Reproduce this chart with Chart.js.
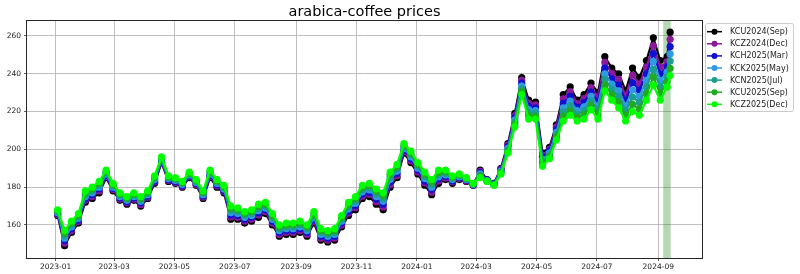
<!DOCTYPE html>
<html>
<head>
<meta charset="utf-8">
<script src="https://cdn.jsdelivr.net/npm/chart.js@4/dist/chart.umd.min.js"></script>
<style>
  html, body { margin: 0; padding: 0; background: #fff; }
  #wrap { width: 800px; height: 274px; position: relative; }
</style>
</head>
<body>
<div id="wrap"><canvas id="priceChart" width="800" height="274"></canvas></div>
<script>
// weekly readings taken from the chart (last one is the final day shown)
const dates = [
  '2023-01-03','2023-01-10','2023-01-17','2023-01-24','2023-01-31','2023-02-07','2023-02-14','2023-02-21','2023-02-28','2023-03-07',
  '2023-03-14','2023-03-21','2023-03-28','2023-04-04','2023-04-11','2023-04-18','2023-04-25','2023-05-02','2023-05-09','2023-05-16',
  '2023-05-23','2023-05-30','2023-06-06','2023-06-13','2023-06-20','2023-06-27','2023-07-04','2023-07-11','2023-07-18','2023-07-25',
  '2023-08-01','2023-08-08','2023-08-15','2023-08-22','2023-08-29','2023-09-05','2023-09-12','2023-09-19','2023-09-26','2023-10-03',
  '2023-10-10','2023-10-17','2023-10-24','2023-10-31','2023-11-07','2023-11-14','2023-11-21','2023-11-28','2023-12-05','2023-12-12',
  '2023-12-19','2023-12-26','2024-01-02','2024-01-09','2024-01-16','2024-01-23','2024-01-30','2024-02-06','2024-02-13','2024-02-20',
  '2024-02-27','2024-03-05','2024-03-12','2024-03-19','2024-03-26','2024-04-02','2024-04-09','2024-04-16','2024-04-23','2024-04-30',
  '2024-05-07','2024-05-14','2024-05-21','2024-05-28','2024-06-04','2024-06-11','2024-06-18','2024-06-25','2024-07-02','2024-07-09',
  '2024-07-16','2024-07-23','2024-07-30','2024-08-06','2024-08-13','2024-08-20','2024-08-27','2024-09-03','2024-09-10','2024-09-13'
];

const kcu2024 = [
  165,149,156,161,172,174,177,185,178,173, 171,173,170,174,182,193,183,182,180,185,
  181,174,185,180,177,163,163,161,162,164, 166,160,154,155,155,156,154,161,152,151,
  152,159,165,168,174,175,171,168,180,185, 198,193,187,181,176,182,184,182,184,183,
  181,189,184,182,190,203,219,238,226,225, 198,201,213,229,233,226,229,235,230,249,
  243,240,231,243,238,247,259,247,249,262
];
const kcz2024 = [
  165.5,150.3,157,161.8,173,175,178,185.7,178.7,173.7, 171.7,173.7,170.8,174.7,182.7,193.5,183.5,182.5,180.5,185.5,
  181.5,174.7,185.7,180.7,177.7,164.2,164,162,163,165.2, 167,161,155,156,156,157,155,162,153,152,
  153,160,166.2,169.2,175.2,176.2,172.3,169.5,181.3,186.2, 198.8,194,188,182.2,177.3,183.2,184.8,182.7,184.5,183.3,
  181.2,188.3,183.8,181.8,189.5,202.2,217.8,236.5,224.3,223.5, 196.8,200,211.7,226.7,230.5,224.2,226.8,232.7,227.7,246,
  240.2,237,228.3,239.2,234.7,243.5,254.8,243.5,246.3,258.2
];
const kch2025 = [
  166,151.7,158,162.7,174,176,179,186.3,179.3,174.3, 172.3,174.3,171.7,175.3,183.3,194,184,183,181,186,
  182,175.3,186.3,181.3,178.3,165.3,165,163,164,166.3, 168,162,156,157,157,158,156,163,154,153,
  154,161,167.3,170.3,176.3,177.3,173.7,171,182.7,187.3, 199.7,195,189,183.3,178.7,184.3,185.7,183.3,185,183.7,
  181.3,187.7,183.7,181.7,189,201.3,216.7,235,222.7,222, 195.7,199,210.3,224.3,228,222.3,224.7,230.3,225.3,243,
  237.3,234,225.7,235.3,231.3,240,250.7,240,243.7,254.3
];
const kck2025 = [
  166.5,153,159,163.5,175,177,180,187,180,175, 173,175,172.5,176,184,194.5,184.5,183.5,181.5,186.5,
  182.5,176,187,182,179,166.5,166,164,165,167.5, 169,163,157,158,158,159,157,164,155,154,
  155,162,168.5,171.5,177.5,178.5,175,172.5,184,188.5, 200.5,196,190,184.5,180,185.5,186.5,184,185.5,184,
  181.5,187,183.5,181.5,188.5,200.5,215.5,233.5,221,220.5, 194.5,198,209,222,225.5,220.5,222.5,228,223,240,
  234.5,231,223,231.5,228,236.5,246.5,236.5,241,250.5
];
const kcn2025 = [
  167,154.3,160,164.3,176,178,181,187.7,180.7,175.7, 173.7,175.7,173.3,176.7,184.7,195,185,184,182,187,
  183,176.7,187.7,182.7,179.7,167.7,167,165,166,168.7, 170,164,158,159,159,160,158,165,156,155,
  156,163,169.7,172.7,178.7,179.7,176.3,174,185.3,189.7, 201.3,197,191,185.7,181.3,186.7,187.3,184.7,186,184.3,
  181.7,186.3,183.3,181.3,188,199.7,214.3,232,219.3,219, 193.3,197,207.7,219.7,223,218.7,220.3,225.7,220.7,237,
  231.7,228,220.3,227.7,224.7,233,242.3,233,238.3,246.7
];
const kcu2025 = [
  167.5,155.7,161,165.2,177,179,182,188.3,181.3,176.3, 174.3,176.3,174.2,177.3,185.3,195.5,185.5,184.5,182.5,187.5,
  183.5,177.3,188.3,183.3,180.3,168.8,168,166,167,169.8, 171,165,159,160,160,161,159,166,157,156,
  157,164,170.8,173.8,179.8,180.8,177.7,175.5,186.7,190.8, 202.2,198,192,186.8,182.7,187.8,188.2,185.3,186.5,184.7,
  181.8,185.7,183.2,181.2,187.5,198.8,213.2,230.5,217.7,217.5, 192.2,196,206.3,217.3,220.5,216.8,218.2,223.3,218.3,234,
  228.8,225,217.7,223.8,221.3,229.5,238.2,229.5,235.7,242.8
];
const kcz2025 = [
  168,157,162,166,178,180,183,189,182,177, 175,177,175,178,186,196,186,185,183,188,
  184,178,189,184,181,170,169,167,168,171, 172,166,160,161,161,162,160,167,158,157,
  158,165,172,175,181,182,179,177,188,192, 203,199,193,188,184,189,189,186,187,185,
  182,185,183,181,187,198,212,229,216,216, 191,195,205,215,218,215,216,221,216,231,
  226,222,215,220,218,226,234,226,233,239
];

const seriesNames = ['KCU2024(Sep)', 'KCZ2024(Dec)', 'KCH2025(Mar)', 'KCK2025(May)', 'KCN2025(Jul)', 'KCU2025(Sep)', 'KCZ2025(Dec)'];
const seriesValues = [kcu2024, kcz2024, kch2025, kck2025, kcn2025, kcu2025, kcz2025];
const seriesColors = ['#000000', '#8a1a9a', '#1010d0', '#2f9be0', '#1a9e90', '#1faa1f', '#00ff00'];

const xTickLabels = ['2023-01', '2023-03', '2023-05', '2023-07', '2023-09', '2023-11', '2024-01', '2024-03', '2024-05', '2024-07', '2024-09'];
const yTickValues = [160, 180, 200, 220, 240, 260];
const spanDates = ['2024-09-06', '2024-09-13'];

const DAY0 = Date.UTC(2023, 0, 1);
function toDay(s) {
    const p = s.split('-').map(Number);
    return (Date.UTC(p[0], p[1] - 1, p[2] || 1) - DAY0) / 86400000;
}

// shaded window + frame, title and legend drawn like the matplotlib figure
const figurePlugin = {
    id: 'figure',
    beforeDatasetsDraw(chart) {
        const { ctx, chartArea, scales } = chart;
        const x0 = scales.x.getPixelForValue(toDay(spanDates[0]));
        const x1 = scales.x.getPixelForValue(toDay(spanDates[1]) + 0.5);
        ctx.save();
        ctx.fillStyle = 'rgba(0,128,0,0.3)';
        ctx.fillRect(x0, chartArea.top, x1 - x0, chartArea.bottom - chartArea.top);
        ctx.restore();
    },
    afterDraw(chart) {
        const { ctx, chartArea } = chart;
        ctx.save();
        ctx.strokeStyle = '#262626';
        ctx.lineWidth = 1;
        ctx.strokeRect(Math.round(chartArea.left) - 0.5, Math.round(chartArea.top) - 0.5,
            Math.round(chartArea.right - chartArea.left) + 1, Math.round(chartArea.bottom - chartArea.top) + 1);

        ctx.fillStyle = '#000';
        ctx.font = '14.5px "DejaVu Sans"';
        ctx.textAlign = 'center';
        ctx.textBaseline = 'alphabetic';
        ctx.fillText('arabica-coffee prices', (chartArea.left + chartArea.right) / 2, 16);

        // legend
        ctx.fillStyle = 'rgba(255,255,255,0.8)';
        ctx.strokeStyle = '#cccccc';
        ctx.beginPath();
        ctx.roundRect(705.5, 23.5, 88, 88, 2);
        ctx.fill();
        ctx.stroke();
        ctx.font = '8px "DejaVu Sans"';
        ctx.textAlign = 'left';
        ctx.textBaseline = 'middle';
        seriesNames.forEach((name, i) => {
            const y = 31.7 + i * 12.1;
            ctx.strokeStyle = seriesColors[i];
            ctx.lineWidth = 1.5;
            ctx.beginPath();
            ctx.moveTo(707, y);
            ctx.lineTo(722, y);
            ctx.stroke();
            ctx.fillStyle = seriesColors[i];
            ctx.beginPath();
            ctx.arc(714.5, y, 3, 0, Math.PI * 2);
            ctx.fill();
            ctx.fillStyle = '#222';
            ctx.fillText(name, 730, y + 0.5);
        });
        ctx.restore();
    }
};

const datasets = seriesNames.map((name, i) => ({
    label: name,
    data: dates.map((d, k) => ({ x: toDay(d), y: seriesValues[i][k] })),
    borderColor: seriesColors[i],
    backgroundColor: seriesColors[i],
    pointBackgroundColor: seriesColors[i],
    pointBorderWidth: 0,
    pointRadius: 3.6,
    borderWidth: 2.2,
    tension: 0,
    order: seriesNames.length - 1 - i // last contract on top
}));

const tickFont = { family: '"DejaVu Sans"', size: 7.5 };

new Chart(document.getElementById('priceChart'), {
    type: 'line',
    data: { datasets: datasets },
    options: {
        responsive: false,
        animation: false,
        layout: { padding: { top: 21, right: 98, left: 0, bottom: 0 } },
        plugins: {
            legend: { display: false },
            tooltip: { enabled: false },
            title: { display: false }
        },
        scales: {
            x: {
                type: 'linear',
                min: -29,
                max: 653.2,
                afterFit: s => { s.height = 16; },
                afterBuildTicks: s => { s.ticks = xTickLabels.map(t => ({ value: toDay(t) })); },
                ticks: {
                    font: tickFont,
                    color: '#222',
                    padding: 2,
                    maxRotation: 0,
                    autoSkip: false,
                    callback: (v, idx) => xTickLabels[idx]
                },
                grid: { color: '#b0b0b0', lineWidth: 0.8, tickLength: 3, tickColor: '#333' },
                border: { display: false }
            },
            y: {
                min: 142.5,
                max: 267.9,
                afterFit: s => { s.width = 27; },
                afterBuildTicks: s => { s.ticks = yTickValues.map(v => ({ value: v })); },
                ticks: { font: tickFont, color: '#222', padding: 3 },
                grid: { color: '#b0b0b0', lineWidth: 0.8, tickLength: 3, tickColor: '#333' },
                border: { display: false }
            }
        }
    },
    plugins: [figurePlugin]
});
</script>
</body>
</html>
